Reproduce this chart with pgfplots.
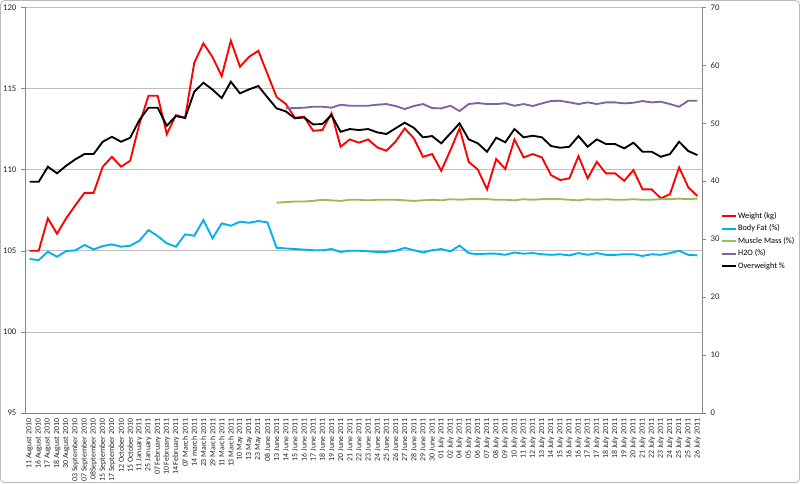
\documentclass[border=0pt]{standalone}
\usepackage{fontspec}
\setmainfont{Carlito}
\usepackage{pgfplots}
\usepackage{pgfplotstable}
\pgfplotsset{compat=1.18}

\definecolor{wred}{RGB}{255,0,0}
\definecolor{fatblue}{RGB}{0,176,240}
\definecolor{musgreen}{RGB}{155,187,89}
\definecolor{h2opurple}{RGB}{128,100,162}
\definecolor{axisgray}{RGB}{134,134,134}
\definecolor{gridgray}{RGB}{190,190,190}

% weight, kg (left axis)
\pgfplotstableread{
x y
0 105.0
1 105.0
2 107.0
3 106.05
4 107.0
5 107.8
6 108.57
7 108.57
8 110.18
9 110.79
10 110.18
11 110.55
12 112.8
13 114.55
14 114.55
15 112.19
16 113.36
17 113.19
18 116.58
19 117.78
20 116.93
21 115.76
22 117.94
23 116.34
24 116.95
25 117.32
26 115.9
27 114.47
28 114.05
29 113.2
30 113.26
31 112.39
32 112.44
33 113.47
34 111.41
35 111.86
36 111.66
37 111.86
38 111.37
39 111.16
40 111.72
41 112.54
42 111.93
43 110.79
44 110.96
45 109.93
46 111.2
47 112.54
48 110.48
49 110.0
50 108.78
51 110.65
52 110.04
53 111.86
54 110.75
55 110.96
56 110.75
57 109.66
58 109.36
59 109.46
60 110.83
61 109.46
62 110.48
63 109.77
64 109.77
65 109.31
66 109.97
67 108.78
68 108.78
69 108.23
70 108.49
71 110.14
72 108.91
73 108.37
}\weight

% body fat %
\pgfplotstableread{
x y
0 26.57
1 26.4
2 27.83
3 26.97
4 27.95
5 28.07
6 28.99
7 28.24
8 28.81
9 29.1
10 28.7
11 28.87
12 29.73
13 31.57
14 30.54
15 29.28
16 28.7
17 30.83
18 30.59
19 33.3
20 30.14
21 32.73
22 32.32
23 33.01
24 32.83
25 33.13
26 32.9
27 28.52
28 28.4
29 28.3
30 28.2
31 28.1
32 28.1
33 28.3
34 27.8
35 28.0
36 28.0
37 27.9
38 27.8
39 27.8
40 28.0
41 28.5
42 28.1
43 27.7
44 28.1
45 28.3
46 27.9
47 28.9
48 27.6
49 27.4
50 27.5
51 27.5
52 27.3
53 27.7
54 27.5
55 27.6
56 27.4
57 27.3
58 27.4
59 27.2
60 27.6
61 27.3
62 27.6
63 27.3
64 27.3
65 27.4
66 27.4
67 27.1
68 27.4
69 27.3
70 27.6
71 28.0
72 27.3
73 27.2
}\fat

% muscle mass %
\pgfplotstableread{
x y
27 36.3
28 36.4
29 36.5
30 36.5
31 36.6
32 36.8
33 36.7
34 36.6
35 36.8
36 36.8
37 36.7
38 36.8
39 36.8
40 36.8
41 36.7
42 36.6
43 36.7
44 36.8
45 36.7
46 36.9
47 36.8
48 36.9
49 36.9
50 36.9
51 36.8
52 36.8
53 36.7
54 36.9
55 36.8
56 36.9
57 36.9
58 36.9
59 36.8
60 36.7
61 36.9
62 36.8
63 36.9
64 36.8
65 36.8
66 36.9
67 36.8
68 36.8
69 36.9
70 36.9
71 37.0
72 36.9
73 37.0
}\muscle

% H2O %
\pgfplotstableread{
x y
28 52.57
29 52.62
30 52.68
31 52.85
32 52.85
33 52.68
34 53.2
35 53.02
36 53.02
37 53.02
38 53.2
39 53.31
40 52.97
41 52.45
42 52.97
43 53.31
44 52.62
45 52.57
46 53.02
47 52.1
48 53.31
49 53.49
50 53.31
51 53.31
52 53.45
53 53.02
54 53.31
55 52.97
56 53.43
57 53.83
58 53.88
59 53.6
60 53.31
61 53.6
62 53.31
63 53.6
64 53.6
65 53.43
66 53.54
67 53.83
68 53.6
69 53.71
70 53.31
71 52.85
72 53.88
73 53.88
}\water

% overweight %
\pgfplotstableread{
x y
0 39.9
1 39.9
2 42.5
3 41.36
4 42.67
5 43.77
6 44.69
7 44.69
8 46.81
9 47.67
10 46.81
11 47.5
12 50.55
13 52.68
14 52.68
15 49.57
16 51.24
17 50.9
18 55.44
19 56.99
20 55.8
21 54.35
22 57.16
23 55.16
24 55.85
25 56.42
26 54.47
27 52.57
28 52.05
29 50.85
30 51.0
31 49.8
32 49.86
33 51.41
34 48.53
35 49.0
36 48.83
37 49.0
38 48.43
39 48.14
40 49.12
41 50.09
42 49.22
43 47.57
44 47.79
45 46.53
46 48.26
47 49.98
48 47.22
49 46.53
50 45.08
51 47.5
52 46.71
53 49.0
54 47.57
55 47.85
56 47.57
57 46.07
58 45.77
59 45.95
60 47.79
61 45.95
62 47.22
63 46.41
64 46.41
65 45.67
66 46.64
67 45.08
68 45.08
69 44.22
70 44.69
71 46.81
72 45.2
73 44.51
}\overw

\pgfplotsset{
  base/.style={
    width=507.75pt, height=304.3pt, scale only axis,
    xmin=-0.5, xmax=73.5,
    tick align=outside,
    major tick length=3pt,
    minor tick length=3pt,
    axis line style={axisgray, -},
    every tick/.style={axisgray},
    /pgf/number format/assume math mode=true,
    yticklabel style={font=\fontsize{6.5}{7}\selectfont, text=black!85},
  }
}

\begin{document}
\begin{tikzpicture}
\begin{axis}[base,
  ymin=95, ymax=120, ytick={95,100,...,120},
  axis x line*=bottom, axis y line*=left,
  ymajorgrids, grid style={gridgray, line width=0.6pt},
  xtick={0,...,73},
  xtick style={draw=none},
  minor xtick={-0.5,0.5,...,73.5},
  xticklabels={11 August 2010,16 August 2010,17 August 2010,18 August 2010,30 August 2010,03 September 2010,07 September 2010,08September 2010,15 September 2010,17 September 2010,12 October 2010,15 October 2010,11 January 2011,25 January 2011,07 February 2011,10 February 2011,14 February 2011,07 March 2011,14 march 2011,23 March 2011,29 March 2011,11 March 2011,13 March 2011,10 May 2011,13 May 2011,23 May 2011,08 June 2011,13 June 2011,14 June 2011,15 June 2011,16 June 2011,17 June 2011,18 June 2011,19 June 2011,20 June 2011,21 June 2011,22 June 2011,23 June 2011,24 June 2011,25 June 2011,26 June 2011,27 June 2011,28 June 2011,29 June 2011,30 June 2011,01 July 2011,02 July 2011,04 July 2011,05 July 2011,06 July 2011,07 July 2011,08 July 2011,09 July 2011,10 July 2011,11 July 2011,12 July 2011,13 July 2011,14 July 2011,15 July 2011,16 July 2011,16 July 2011,17 July 2011,17 July 2011,18 July 2011,18 July 2011,19 July 2011,20 July 2011,21 July 2011,22 July 2011,23 July 2011,24 July 2011,25 July 2011,25 July 2011,26 July 2011},
  x tick label style={rotate=90, anchor=east, font=\fontsize{5.9}{6.2}\selectfont, text=black!85, inner sep=1.2pt},
]
\addplot[wred, line width=1.4pt] table[x=x, y=y] {\weight};
\end{axis}

\begin{axis}[base,
  ymin=0, ymax=70, ytick={0,10,...,70},
  axis x line=none, axis y line*=right,
  legend cell align=left,
  legend style={at={(1.022,0.424)}, anchor=west, draw=none, fill=none,
    font=\fontsize{6.2}{7}\selectfont, row sep=1.8pt,
    nodes={inner sep=0.8pt}},
  legend image code/.code={\draw[#1] (0pt,0pt) -- (10.5pt,0pt);},
]
\addlegendimage{wred, line width=1.4pt}
\addlegendentry{Weight (kg)}
\addplot[fatblue, line width=1.4pt] table[x=x, y=y] {\fat};
\addlegendentry{Body Fat (\%)}
\addplot[musgreen, line width=1.4pt] table[x=x, y=y] {\muscle};
\addlegendentry{Muscle Mass (\%)}
\addplot[h2opurple, line width=1.4pt] table[x=x, y=y] {\water};
\addlegendentry{H2O (\%)}
\addplot[black, line width=1.4pt] table[x=x, y=y] {\overw};
\addlegendentry{Overweight \%}
\end{axis}

\pgfresetboundingbox
\path[use as bounding box] ([xshift=-18.75pt,yshift=-52.5pt]current axis.south west) rectangle ([xshift=73.5pt,yshift=5.5pt]current axis.north east);
\draw[gray!55, line width=0.6pt, rounded corners=3pt] ([xshift=-18.4pt,yshift=-52.1pt]current axis.south west) rectangle ([xshift=73.1pt,yshift=5.1pt]current axis.north east);
\end{tikzpicture}
\end{document}
